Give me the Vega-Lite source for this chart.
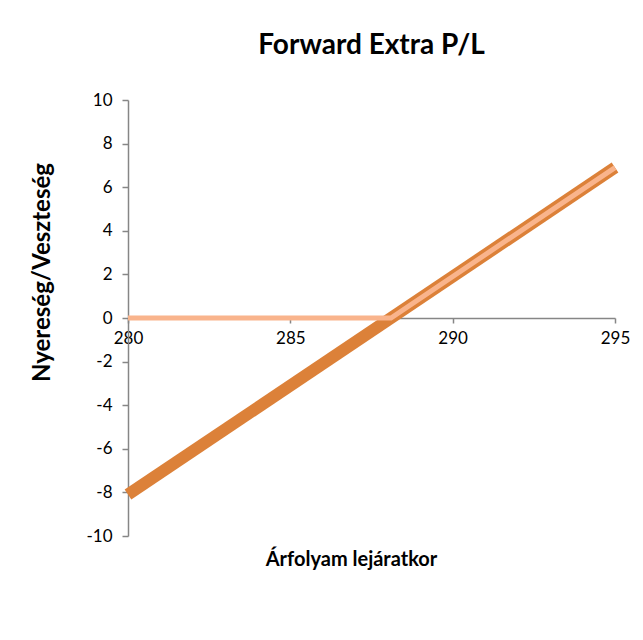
{
  "$schema": "https://vega.github.io/schema/vega-lite/v6.json",
  "autosize": "none",
  "width": 487,
  "height": 436,
  "padding": {"left": 128, "top": 100, "right": 28, "bottom": 104},
  "background": "white",
  "title": {
    "text": "Forward Extra P/L",
    "anchor": "middle",
    "frame": "group",
    "font": "Lato",
    "fontSize": 28,
    "fontWeight": "bold",
    "color": "#000000",
    "baseline": "alphabetic",
    "offset": 9
  },
  "config": {
    "view": {"stroke": null},
    "font": "Lato"
  },
  "datasets": {
    "payoff": [
      {"series": "Forward", "price": 280, "pl": -8.1},
      {"series": "Forward", "price": 295, "pl": 6.9},
      {"series": "Forward Extra", "price": 280, "pl": 0},
      {"series": "Forward Extra", "price": 288.1, "pl": 0},
      {"series": "Forward Extra", "price": 295, "pl": 6.9}
    ]
  },
  "data": {"name": "payoff"},
  "encoding": {
    "x": {
      "field": "price",
      "type": "quantitative",
      "scale": {"domain": [280, 295], "nice": false, "zero": false},
      "axis": {
        "title": "Árfolyam lejáratkor",
        "values": [280, 285, 290, 295],
        "grid": false,
        "offset": -218,
        "domainColor": "#868686",
        "domainWidth": 1.5,
        "tickColor": "#868686",
        "tickWidth": 1.5,
        "tickSize": 5,
        "labelFont": "Lato",
        "labelFontSize": 17,
        "labelColor": "#000000",
        "labelPadding": 7,
        "labelFlush": false,
        "titleFont": "Lato",
        "titleFontSize": 20,
        "titleFontWeight": "bold",
        "titleColor": "#000000",
        "titleX": 223,
        "titleY": 247,
        "titleAlign": "center",
        "titleBaseline": "alphabetic"
      }
    },
    "y": {
      "field": "pl",
      "type": "quantitative",
      "scale": {"domain": [-10, 10], "nice": false},
      "axis": {
        "title": "Nyereség/Veszteség",
        "values": [-10, -8, -6, -4, -2, 0, 2, 4, 6, 8, 10],
        "labelExpr": "datum.value < 0 ? '-' + abs(datum.value) : '' + datum.value",
        "grid": false,
        "domainColor": "#868686",
        "domainWidth": 1.5,
        "tickColor": "#868686",
        "tickWidth": 1.5,
        "tickSize": 6,
        "labelFont": "Lato",
        "labelFontSize": 17,
        "labelColor": "#000000",
        "labelPadding": 10,
        "titleFont": "Lato",
        "titleFontSize": 24,
        "titleFontWeight": "bold",
        "titleColor": "#000000",
        "titleX": -86,
        "titleY": 172,
        "titleAngle": -90,
        "titleAlign": "center",
        "titleBaseline": "middle"
      }
    },
    "detail": {"field": "series"}
  },
  "layer": [
    {
      "transform": [{"filter": "datum.series === 'Forward'"}],
      "mark": {"type": "line", "color": "#DC8139", "strokeWidth": 12, "strokeCap": "butt"}
    },
    {
      "transform": [{"filter": "datum.series === 'Forward Extra'"}],
      "mark": {"type": "line", "color": "#F9B48C", "strokeWidth": 5, "strokeCap": "butt"}
    }
  ]
}
